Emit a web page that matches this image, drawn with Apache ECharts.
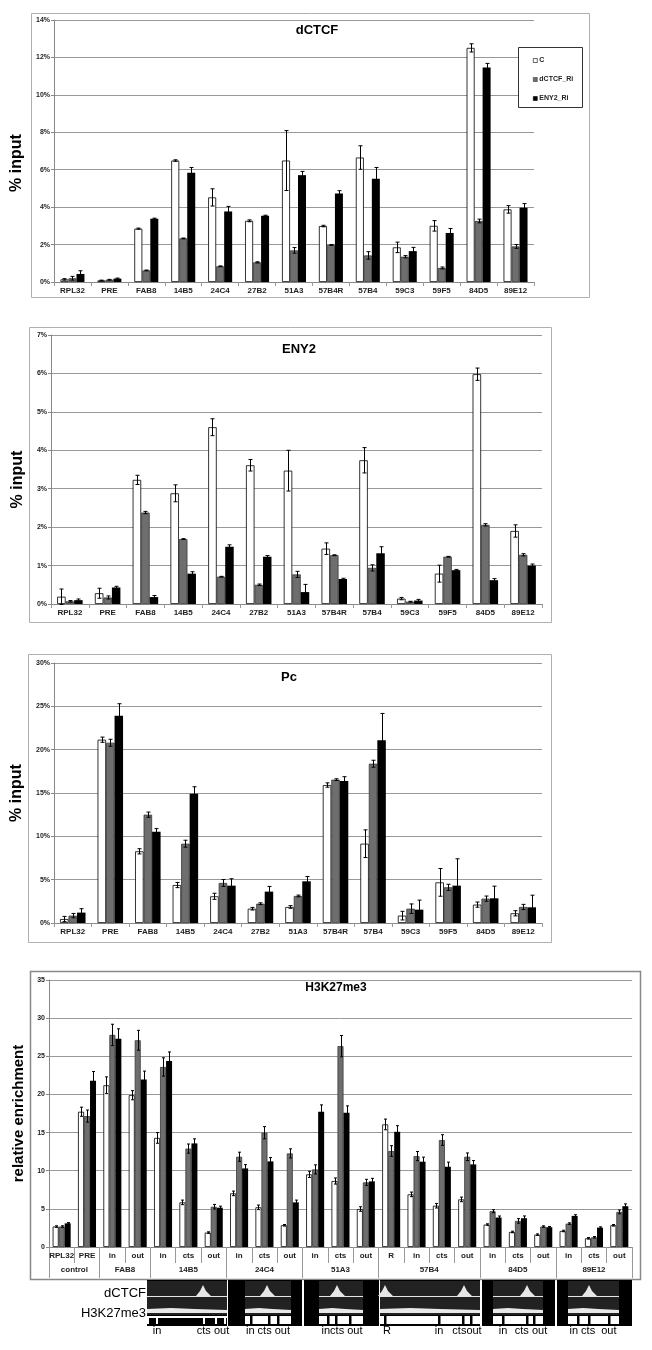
<!DOCTYPE html>
<html>
<head>
<meta charset="utf-8">
<script src="https://cdn.jsdelivr.net/npm/echarts@6.0.0/dist/echarts.min.js"></script>
<style>
html, body { margin: 0; padding: 0; background: #fff; }
#chart { width: 652px; height: 1350px; }
</style>
</head>
<body>
<div id="chart"></div>
<script>
const FONT = 'Arial, "Liberation Sans", sans-serif';

// categories
const sites = ['RPL32', 'PRE', 'FAB8', '14B5', '24C4', '27B2', '51A3', '57B4R', '57B4', '59C3', '59F5', '84D5', '89E12'];
const seriesNames = ['C', 'dCTCF_Ri', 'ENY2_Ri'];

// dCTCF (% input)
const dctcfC = [0.14, 0.08, 2.85, 6.49, 4.52, 3.27, 6.49, 2.99, 6.65, 1.85, 3.0, 12.51, 3.88];
const dctcfCErr = [0.04, 0.02, 0.03, 0.04, 0.46, 0.05, 1.6, 0.04, 0.63, 0.28, 0.28, 0.22, 0.2];
const dctcfD = [0.2, 0.12, 0.62, 2.33, 0.84, 1.05, 1.69, 1.98, 1.42, 1.35, 0.75, 3.26, 1.9];
const dctcfDErr = [0.1, 0.02, 0.02, 0.02, 0.02, 0.03, 0.15, 0.02, 0.2, 0.06, 0.05, 0.1, 0.1];
const dctcfE = [0.43, 0.18, 3.38, 5.84, 3.77, 3.54, 5.71, 4.73, 5.52, 1.65, 2.62, 11.46, 3.97];
const dctcfEErr = [0.17, 0.03, 0.03, 0.28, 0.27, 0.03, 0.2, 0.15, 0.6, 0.2, 0.24, 0.22, 0.22];

// ENY2 (% input)
const eny2C = [0.19, 0.28, 3.23, 2.88, 4.6, 3.61, 3.47, 1.44, 3.74, 0.14, 0.79, 5.98, 1.9];
const eny2CErr = [0.2, 0.13, 0.12, 0.22, 0.22, 0.15, 0.53, 0.15, 0.33, 0.03, 0.22, 0.16, 0.16];
const eny2D = [0.07, 0.17, 2.38, 1.69, 0.71, 0.5, 0.77, 1.27, 0.94, 0.06, 1.23, 2.06, 1.28];
const eny2DErr = [0.02, 0.04, 0.03, 0.01, 0.01, 0.02, 0.08, 0.01, 0.08, 0.01, 0.01, 0.03, 0.03];
const eny2E = [0.1, 0.43, 0.18, 0.79, 1.49, 1.23, 0.31, 0.65, 1.32, 0.09, 0.88, 0.62, 1.0];
const eny2EErr = [0.03, 0.03, 0.04, 0.05, 0.05, 0.03, 0.2, 0.02, 0.17, 0.03, 0.02, 0.04, 0.04];

// Pc (% input)
const pcC = [0.46, 21.15, 8.27, 4.38, 3.08, 1.65, 1.85, 15.92, 9.15, 0.85, 4.69, 2.12, 1.12];
const pcCErr = [0.3, 0.3, 0.3, 0.3, 0.35, 0.15, 0.15, 0.25, 1.6, 0.5, 1.6, 0.3, 0.3];
const pcD = [0.85, 20.8, 12.5, 9.15, 4.62, 2.23, 3.12, 16.54, 18.38, 1.65, 4.12, 2.81, 1.85];
const pcDErr = [0.25, 0.4, 0.3, 0.4, 0.4, 0.1, 0.1, 0.1, 0.4, 0.55, 0.35, 0.3, 0.3];
const pcE = [1.2, 23.9, 10.54, 14.92, 4.31, 3.62, 4.81, 16.38, 21.08, 1.54, 4.31, 2.85, 1.81];
const pcEErr = [0.45, 1.4, 0.35, 0.8, 0.8, 0.6, 0.55, 0.5, 3.1, 1.1, 3.1, 1.4, 1.4];

// H3K27me3 (relative enrichment)
const k27Cats = ['RPL32', 'PRE', 'in', 'out', 'in', 'cts', 'out', 'in', 'cts', 'out', 'in', 'cts', 'out',
  'R', 'in', 'cts', 'out', 'in', 'cts', 'out', 'in', 'cts', 'out'];
const k27Groups = ['control', 'FAB8', '14B5', '24C4', '51A3', '57B4', '84D5', '89E12'];
const k27GroupSizes = [2, 2, 3, 3, 3, 4, 3, 3];
const k27C = [2.68, 17.73, 21.2, 19.9, 14.3, 5.85, 1.89, 7.03, 5.2, 2.85, 9.52, 8.65, 4.98, 16.07, 6.9, 5.41, 6.24, 2.94, 1.97, 1.62, 2.1, 1.14, 2.85];
const k27CErr = [0.1, 0.6, 1.1, 0.6, 0.7, 0.3, 0.1, 0.3, 0.3, 0.1, 0.4, 0.4, 0.3, 0.7, 0.3, 0.3, 0.3, 0.1, 0.1, 0.1, 0.1, 0.1, 0.1];
const k27D = [2.68, 17.16, 27.8, 27.1, 23.6, 12.9, 5.28, 11.83, 14.98, 12.27, 10.17, 26.33, 8.47, 12.58, 11.92, 14.02, 11.83, 4.69, 3.42, 2.68, 3.07, 1.27, 4.6];
const k27DErr = [0.1, 0.8, 1.4, 1.3, 1.2, 0.6, 0.3, 0.6, 0.8, 0.6, 0.6, 1.4, 0.4, 0.7, 0.6, 0.7, 0.5, 0.2, 0.3, 0.1, 0.1, 0.1, 0.25];
const k27E = [3.1, 21.8, 27.3, 21.96, 24.37, 13.58, 5.15, 10.3, 11.22, 5.85, 17.73, 17.6, 8.6, 15.1, 11.18, 10.52, 10.83, 3.86, 3.77, 2.59, 4.08, 2.54, 5.35];
const k27EErr = [0.1, 1.2, 1.3, 1.1, 1.2, 0.6, 0.2, 0.5, 0.5, 0.3, 0.9, 0.9, 0.4, 0.8, 0.6, 0.6, 0.5, 0.2, 0.3, 0.1, 0.15, 0.1, 0.3];

const barColors = ['#ffffff', '#6e6e6e', '#000000'];
const barBorders = ['#000000', '#383838', '#000000'];

const panels = [
  { title: 'dCTCF', tx: 317, ty: 30, cats: sites, vals: [dctcfC, dctcfD, dctcfE], errs: [dctcfCErr, dctcfDErr, dctcfEErr],
    max: 14, step: 2, pct: true, name: '% input', nameGap: 27, namePad: 24,
    grid: { left: 54, top: 20, width: 480, height: 262 }, bw: 8, cap: 2,
    box: [31, 13, 558, 284] },
  { title: 'ENY2', tx: 299, ty: 349, cats: sites, vals: [eny2C, eny2D, eny2E], errs: [eny2CErr, eny2DErr, eny2EErr],
    max: 7, step: 1, pct: true, name: '% input', nameGap: 24, namePad: 20,
    grid: { left: 51, top: 335, width: 491, height: 269 }, bw: 8.5, cap: 2,
    box: [29, 327, 522, 295] },
  { title: 'Pc', tx: 289, ty: 677, cats: sites, vals: [pcC, pcD, pcE], errs: [pcCErr, pcDErr, pcEErr],
    max: 30, step: 5, pct: true, name: '% input', nameGap: 29, namePad: 0,
    grid: { left: 54, top: 663, width: 488, height: 260 }, bw: 8.5, cap: 2,
    box: [28, 654, 523, 288] },
  { title: 'H3K27me3', tx: 336, ty: 988, cats: k27Cats, vals: [k27C, k27D, k27E], errs: [k27CErr, k27DErr, k27EErr],
    max: 35, step: 5, pct: false, name: 'relative enrichment', nameGap: 18, namePad: 0,
    grid: { left: 49, top: 980, width: 583, height: 267 }, bw: 6, cap: 1.5,
    box: [30, 971, 610, 308] }
];

const labelStyle = { fontFamily: FONT, fontWeight: 'bold', fontSize: 8, color: '#222' };

const grids = panels.map(p => p.grid);
const xAxes = panels.map((p, i) => ({
  type: 'category', gridIndex: i, data: p.cats,
  axisLine: { lineStyle: { color: '#888' } },
  axisTick: { show: true, interval: 0, length: i === 3 ? 16 : 4, lineStyle: { color: '#999' } },
  axisLabel: Object.assign({ interval: 0, margin: 5 }, labelStyle)
}));

// second row of labels for H3K27me3 (groups)
const groupEdges = [0];
k27GroupSizes.forEach(n => groupEdges.push(groupEdges[groupEdges.length - 1] + n));
const groupCenters = k27GroupSizes.map((n, i) => groupEdges[i] + n / 2);
xAxes.push({
  type: 'value', gridIndex: 3, min: 0, max: k27Cats.length, position: 'bottom',
  axisLine: { show: false }, splitLine: { show: false },
  axisTick: { show: true, customValues: groupEdges, length: 31, lineStyle: { color: '#999' } },
  axisLabel: Object.assign({
    customValues: groupCenters, margin: 19,
    formatter: v => k27Groups[groupCenters.indexOf(v)] || ''
  }, labelStyle)
});

const yAxes = panels.map((p, i) => ({
  type: 'value', gridIndex: i, min: 0, max: p.max, interval: p.step,
  name: p.name, nameLocation: 'middle', nameGap: p.nameGap, nameRotate: 90,
  nameTextStyle: { fontFamily: FONT, fontWeight: 'bold', fontSize: i === 3 ? 15 : 16, color: '#000',
    padding: [0, p.namePad, 0, 0] },
  axisLine: { show: true, lineStyle: { color: '#888' } },
  axisTick: { show: true, length: 3, lineStyle: { color: '#888' } },
  splitLine: { lineStyle: { color: '#999', width: 1 } },
  axisLabel: Object.assign({ margin: 4, formatter: p.pct ? '{value}%' : '{value}' }, labelStyle, { fontSize: 7 })
}));

function errRender(bw, cap) {
  return function (params, api) {
    const cat = api.value(0), v = api.value(1), e = api.value(2), s = api.value(3);
    const x = Math.round(api.coord([cat, v])[0] + (s - 1) * bw) + 0.5;
    const yT = api.coord([cat, v + e])[1];
    const yB = api.coord([cat, v - e])[1];
    const st = { stroke: '#000', lineWidth: 1 };
    return {
      type: 'group',
      children: [
        { type: 'line', shape: { x1: x, y1: yT, x2: x, y2: yB }, style: st },
        { type: 'line', shape: { x1: x - cap, y1: yT, x2: x + cap, y2: yT }, style: st },
        { type: 'line', shape: { x1: x - cap, y1: yB, x2: x + cap, y2: yB }, style: st }
      ]
    };
  };
}

const series = [];
panels.forEach((p, i) => {
  p.vals.forEach((arr, s) => {
    series.push({
      type: 'bar', name: seriesNames[s], xAxisIndex: i, yAxisIndex: i,
      data: arr, barWidth: p.bw, barGap: '0%',
      itemStyle: { color: barColors[s], borderColor: barBorders[s], borderWidth: s === 2 ? 0 : 0.8 },
      emphasis: { disabled: true }
    });
  });
  const errData = [];
  p.errs.forEach((arr, s) => arr.forEach((e, k) => errData.push([k, p.vals[s][k], e, s])));
  series.push({
    type: 'custom', xAxisIndex: i, yAxisIndex: i, data: errData, z: 5,
    encode: { x: 0, y: 1 }, renderItem: errRender(p.bw, p.cap), silent: true
  });
});

// decorative genome-browser strip under the H3K27me3 panel
const stripBlocks = [
  { x0: 147, x1: 227, i0: 147, i1: 227, peaks: [203], cuts: [157, 204, 216], ticks: true },
  { x0: 228, x1: 302, i0: 245, i1: 291, peaks: [267], cuts: [251, 269, 278] },
  { x0: 304, x1: 379, i0: 319, i1: 363, peaks: [337], cuts: [328, 336, 350] },
  { x0: 380, x1: 480, i0: 380, i1: 480, peaks: [385, 464], cuts: [385, 439, 463, 471] },
  { x0: 482, x1: 555, i0: 493, i1: 543, peaks: [527], cuts: [503, 527, 534] },
  { x0: 557, x1: 632, i0: 568, i1: 619, peaks: [589], cuts: [578, 589, 609] }
];
const stripLabels = [
  ['in', 157], ['cts out', 213], ['in cts out', 268], ['incts out', 342], ['R', 387],
  ['in', 439], ['ctsout', 467], ['in', 503], ['cts out', 531], ['in cts  out', 593]
];

const graphic = [];
panels.forEach(p => {
  graphic.push({ type: 'rect', shape: { x: p.box[0] + 0.5, y: p.box[1] + 0.5, width: p.box[2], height: p.box[3] },
    style: { fill: 'none', stroke: p === panels[3] ? '#888' : '#b0b0b0', lineWidth: p === panels[3] ? 1.5 : 1 }, z: -1 });
  graphic.push({ type: 'text', x: p.tx, y: p.ty,
    style: { text: p.title, fontFamily: FONT, fontWeight: 'bold', fontSize: p.title === 'H3K27me3' ? 12 : 13,
      fill: '#000', align: 'center', verticalAlign: 'middle' } });
});
// legend frame
graphic.push({ type: 'rect', shape: { x: 518.5, y: 47.5, width: 64, height: 60 }, style: { fill: '#fff', stroke: '#333', lineWidth: 1 }, z: 1 });

const sy = 1279, baseY = 1296;
stripBlocks.forEach(b => {
  graphic.push({ type: 'rect', shape: { x: b.x0, y: sy + 1, width: b.x1 - b.x0, height: 46 }, style: { fill: '#000' } });
  graphic.push({ type: 'rect', shape: { x: b.i0, y: sy + 2, width: b.i1 - b.i0, height: 34 }, style: { fill: '#222' } });
  // dCTCF track
  const pts = [[b.i0, baseY]];
  b.peaks.forEach(pk => { pts.push([pk - 7, baseY], [pk - 3, baseY - 5], [pk, baseY - 11], [pk + 3, baseY - 5], [pk + 8, baseY]); });
  pts.push([b.i1, baseY]);
  graphic.push({ type: 'polygon', shape: { points: pts.concat([[b.i1, baseY + 1], [b.i0, baseY + 1]]) }, style: { fill: '#e6e6e6' } });
  // H3K27me3 track
  graphic.push({ type: 'polygon', shape: { points: [[b.i0, 1309], [b.i0 + (b.i1 - b.i0) * 0.3, 1308], [b.i0 + (b.i1 - b.i0) * 0.6, 1309],
    [b.i1, 1310], [b.i1, 1313], [b.i0, 1313]] }, style: { fill: '#e8e8e8' } });
  // gene / primer row
  if (b.ticks) {
    graphic.push({ type: 'rect', shape: { x: b.i0, y: 1316, width: b.i1 - b.i0, height: 2 }, style: { fill: '#fff' } });
    [b.i0 + 1].concat(b.cuts, [b.i1 - 2]).forEach(c => {
      graphic.push({ type: 'rect', shape: { x: c - 1, y: 1316, width: 2, height: 8 }, style: { fill: '#fff' } });
    });
  } else {
    graphic.push({ type: 'rect', shape: { x: b.i0, y: 1316, width: b.i1 - b.i0, height: 8 }, style: { fill: '#fff' } });
    b.cuts.forEach(c => {
      graphic.push({ type: 'rect', shape: { x: c - 1, y: 1316, width: 2.5, height: 8 }, style: { fill: '#000' } });
    });
  }
});
stripLabels.forEach(l => {
  graphic.push({ type: 'text', x: l[1], y: 1331,
    style: { text: l[0], fontFamily: FONT, fontSize: 11, fill: '#000', align: 'center', verticalAlign: 'middle' } });
});
graphic.push({ type: 'text', x: 146, y: 1293, style: { text: 'dCTCF', fontFamily: FONT, fontSize: 13, fill: '#000', align: 'right', verticalAlign: 'middle' } });
graphic.push({ type: 'text', x: 146, y: 1313, style: { text: 'H3K27me3', fontFamily: FONT, fontSize: 13, fill: '#000', align: 'right', verticalAlign: 'middle' } });

const chart = echarts.init(document.getElementById('chart'), null, { renderer: 'canvas' });
chart.setOption({
  backgroundColor: '#fff',
  animation: false,
  grid: grids,
  xAxis: xAxes,
  yAxis: yAxes,
  legend: {
    data: seriesNames.map(n => ({ name: n, icon: 'rect' })), orient: 'vertical', left: 528, top: 52,
    itemWidth: 4, itemHeight: 4, itemGap: 12, selectedMode: false, z: 3,
    itemStyle: { borderWidth: 0.6 },
    textStyle: { fontFamily: FONT, fontWeight: 'bold', fontSize: 7, color: '#222', padding: [0, 0, 0, -3] }
  },
  series: series,
  graphic: graphic
});
</script>
</body>
</html>
